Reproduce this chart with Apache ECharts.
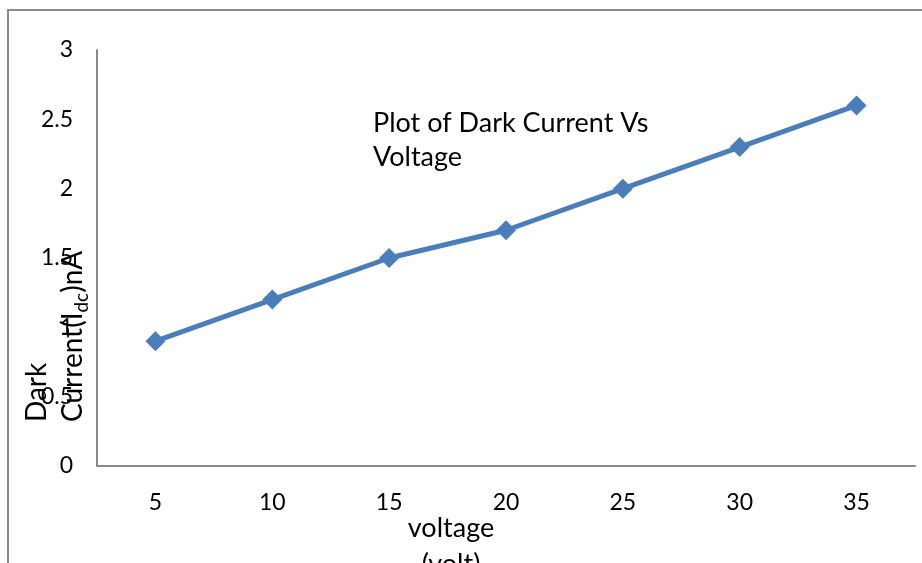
<!DOCTYPE html>
<html>
<head>
<meta charset="utf-8">
<script src="https://cdn.jsdelivr.net/npm/echarts@6/dist/echarts.min.js"></script>
<style>
  html, body { margin: 0; padding: 0; background: #fff; }
  #frame {
    position: absolute; left: 7px; top: 9px; width: 915px; height: 552px;
    border-top: 2px solid #8a8a8a; border-left: 2px solid #8a8a8a; border-bottom: 2px solid #8a8a8a;
    overflow: hidden;
  }
  #chart { width: 915px; height: 552px; }
</style>
</head>
<body>
<div id="frame"><div id="chart"></div></div>
<script>
// 电压（V）与暗电流（nA）
const voltages = ['5', '10', '15', '20', '25', '30', '35'];
const darkCurrent = [0.9, 1.2, 1.5, 1.7, 2.0, 2.3, 2.6];
const yTicks = { min: 0, max: 3, interval: 0.5 };

const myChart = echarts.init(document.getElementById('chart'));
const font = 'Lato, "Open Sans", sans-serif';

let option = {
    backgroundColor: '#fff',
    animation: false,
    title: {
        text: 'Plot of Dark Current Vs\nVoltage',
        left: 364,
        top: 95,
        padding: 0,
        textStyle: {
            fontFamily: font,
            fontWeight: 'normal',
            fontSize: 27,
            lineHeight: 34,
            color: '#000'
        }
    },
    grid: {
        left: 88,
        right: 9,
        top: 39,
        bottom: 97,
        containLabel: false
    },
    xAxis: {
        type: 'category',
        data: voltages,
        boundaryGap: true,
        axisLine: {
            lineStyle: { color: '#8a8a8a', width: 2 }
        },
        axisTick: { show: false },
        axisLabel: {
            fontFamily: font,
            fontSize: 23,
            color: '#000',
            margin: 25
        }
    },
    yAxis: {
        type: 'value',
        min: yTicks.min,
        max: yTicks.max,
        interval: yTicks.interval,
        axisLine: {
            show: true,
            lineStyle: { color: '#8a8a8a', width: 2 }
        },
        axisTick: { show: false },
        splitLine: { show: false },
        axisLabel: {
            fontFamily: font,
            fontSize: 23,
            color: '#000',
            margin: 24
        }
    },
    graphic: [
        {
            // 纵轴标题（旋转）
            type: 'text',
            x: 10,
            y: 411,
            rotation: Math.PI / 2,
            style: {
                text: '{n|Dark}\n{n|Current(I}{s|dc}{n|)nA}',
                align: 'left',
                verticalAlign: 'top',
                fill: '#000',
                rich: {
                    n: { fontFamily: font, fontSize: 28, lineHeight: 36, fill: '#000' },
                    s: { fontFamily: font, fontSize: 19, lineHeight: 19, verticalAlign: 'bottom', fill: '#000' }
                }
            }
        },
        {
            // 横轴标题
            type: 'text',
            x: 442,
            y: 499,
            style: {
                text: 'voltage\n(volt)',
                align: 'center',
                verticalAlign: 'top',
                fontFamily: font,
                fontSize: 27,
                lineHeight: 36,
                fill: '#000'
            }
        }
    ],
    series: [
        {
            type: 'line',
            data: darkCurrent,
            symbol: 'diamond',
            symbolSize: 20,
            showSymbol: true,
            lineStyle: { color: '#4a7ebb', width: 5 },
            itemStyle: { color: '#4a7ebb' },
            z: 3
        }
    ]
};

myChart.setOption(option);
</script>
</body>
</html>
